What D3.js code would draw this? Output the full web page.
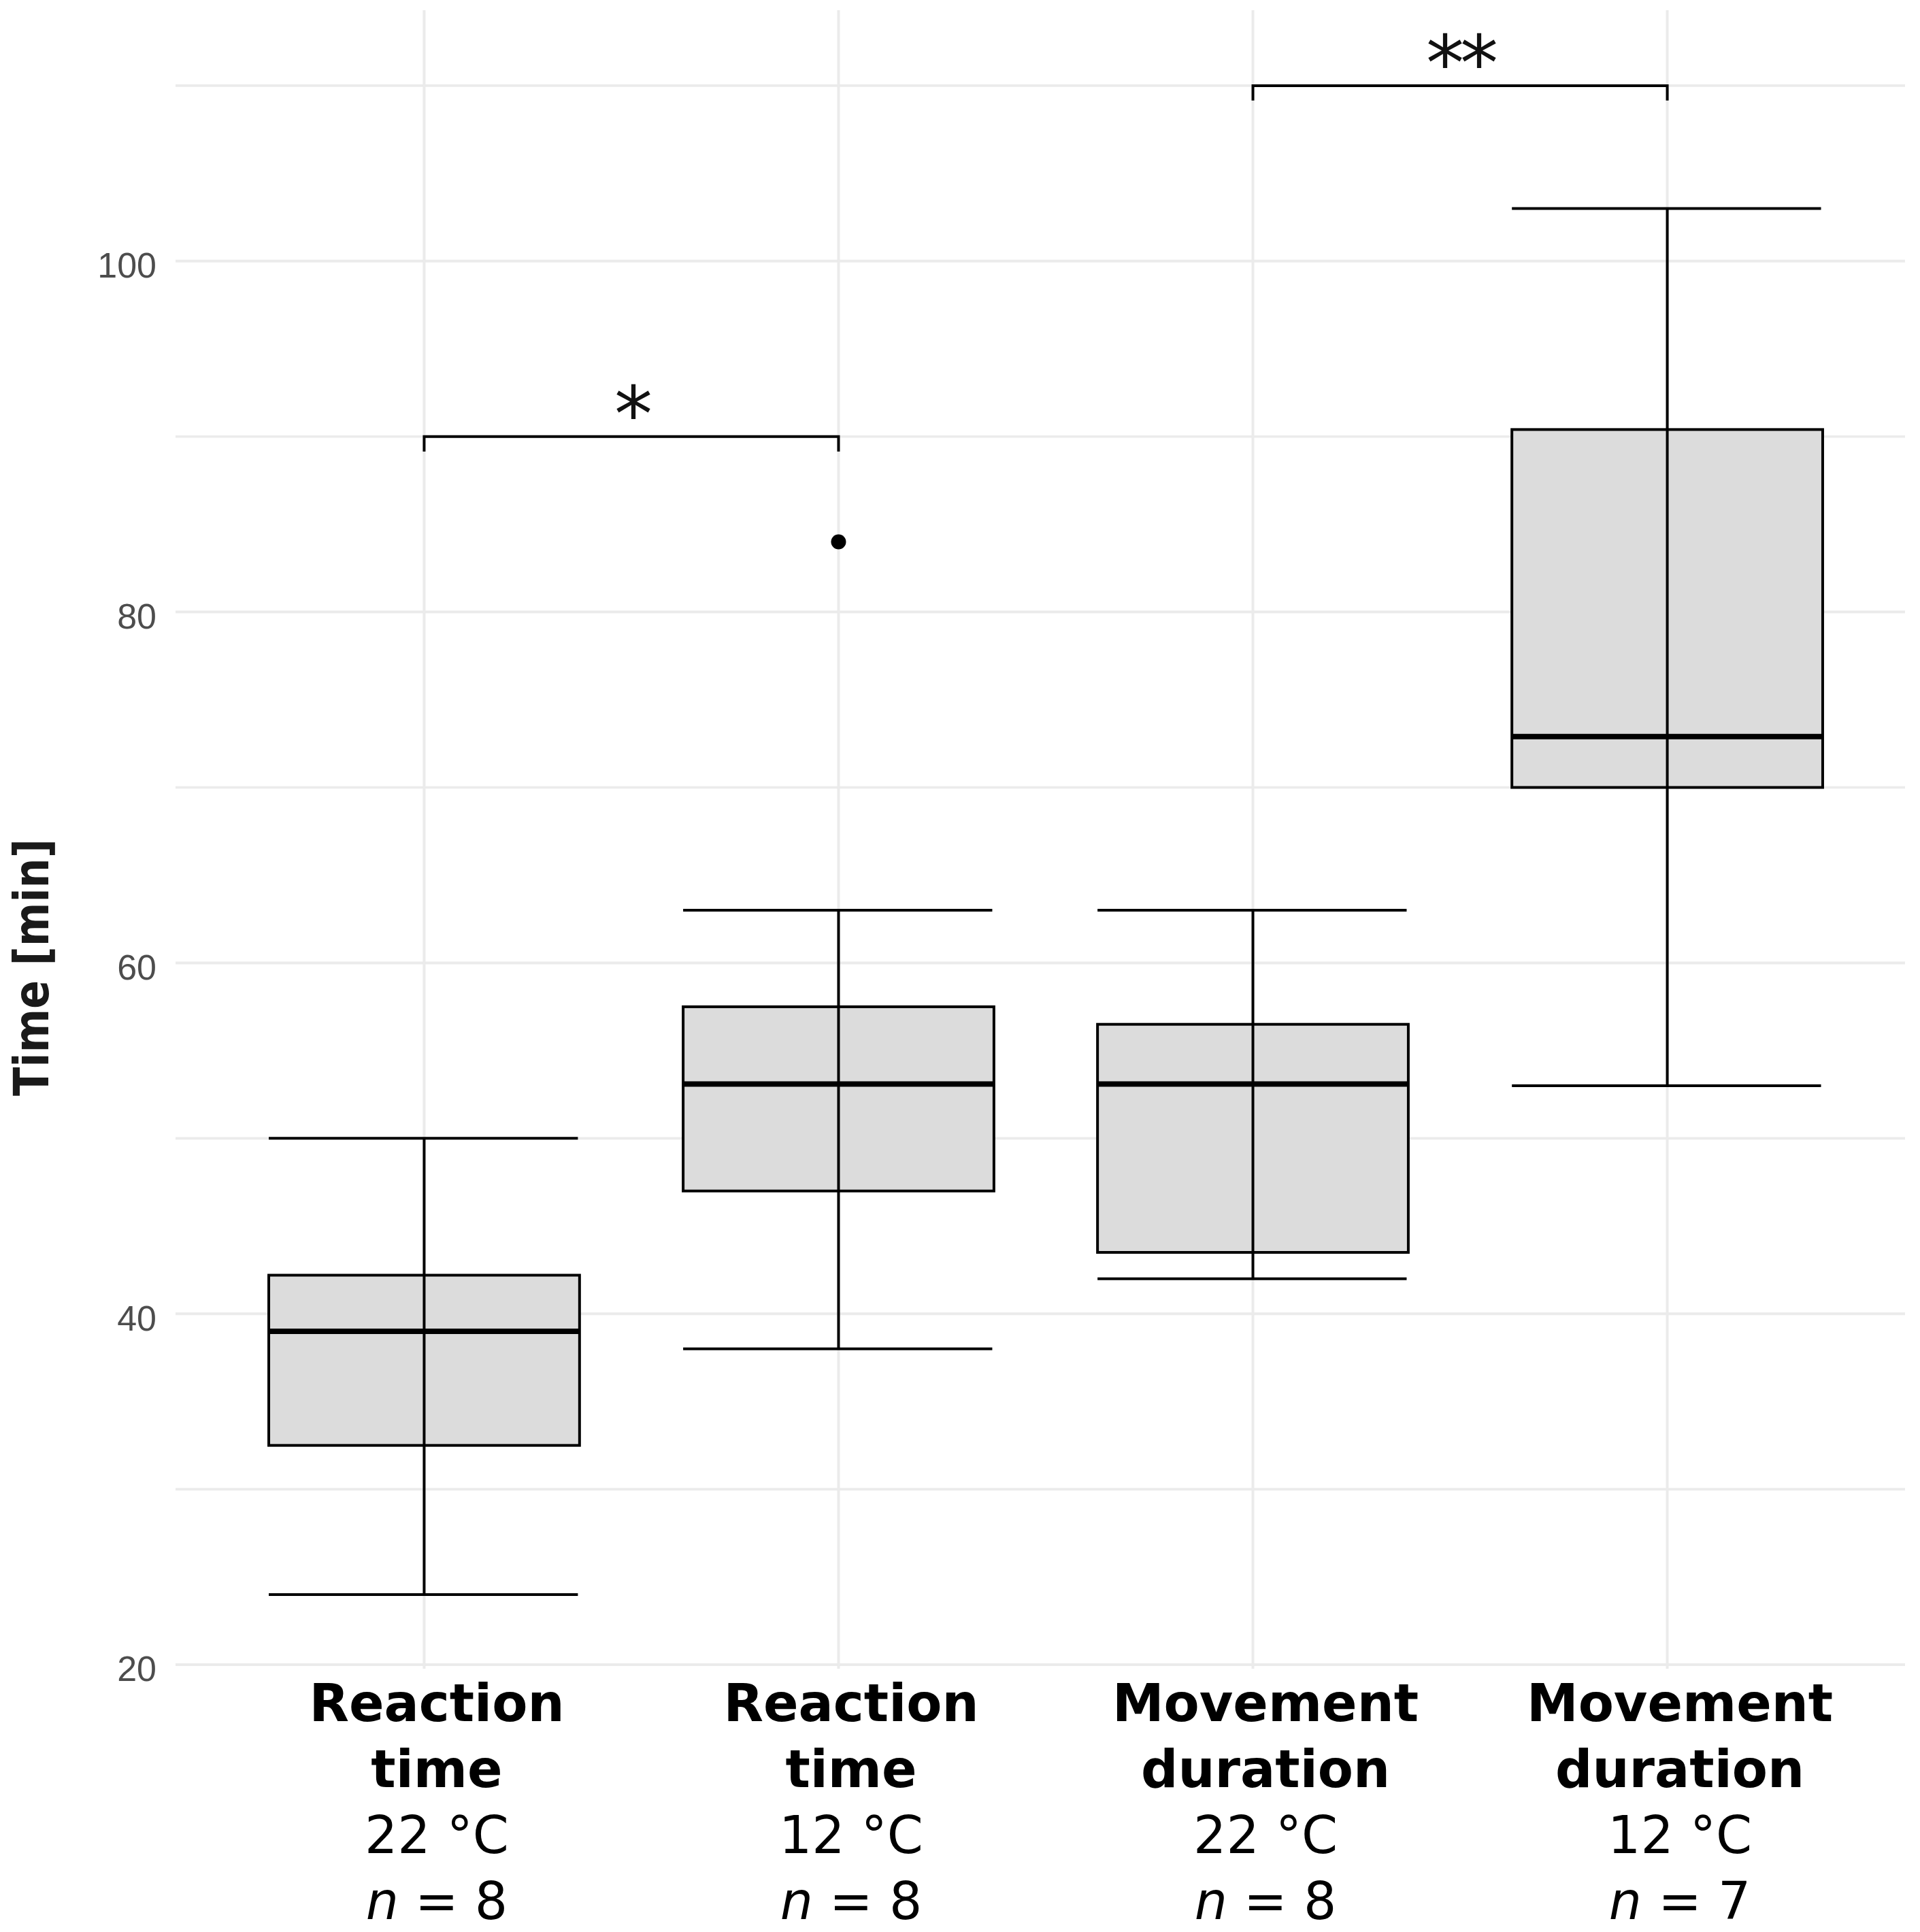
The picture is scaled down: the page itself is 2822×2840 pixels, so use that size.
<!DOCTYPE html>
<html>
<head>
<meta charset="utf-8">
<script src="https://cdn.jsdelivr.net/npm/d3@7"></script>
<style>
    body { margin: 0; background: #fff; }
    svg { display: block; }
</style>
</head>
<body>
<div id="chart"></div>
<script>
// groups: bold title lines, temperature and sample size
const titles = [["Reaction", "time"], ["Reaction", "time"], ["Movement", "duration"], ["Movement", "duration"]];
const temps = ["22 °C", "12 °C", "22 °C", "12 °C"];
const sizes = [8, 8, 8, 7];

// box summaries (min)
const whiskerLow = [24, 38, 42, 53];
const q1 = [32.5, 47.0, 43.5, 70.0];
const medians = [39.0, 53.1, 53.1, 72.9];
const q3 = [42.2, 57.5, 56.5, 90.4];
const whiskerHigh = [50, 63, 63, 103];

// outliers
const outlierGroup = [1];
const outlierValue = [84];

// significance brackets
const bracketFrom = [0, 2];
const bracketTo = [1, 3];
const bracketValue = [90, 110];
const bracketLabel = ["*", "**"];
const tipLength = 0.85;

const majorTicks = [20, 40, 60, 80, 100];
const minorTicks = [30, 50, 70, 90, 110];

const width = 2822, height = 2840;
const margins = {top: 15, left: 258, right: 22, bottom: 387};
const bodyBottom = height - margins.bottom;
const boxHalf = 0.375;

const svg = d3.select("#chart").append("svg")
    .attr("width", width)
    .attr("height", height)
    .attr("viewBox", `0 0 ${width} ${height}`);

svg.append("rect").attr("width", width).attr("height", height).attr("fill", "#fff");

const x = d3.scaleLinear().domain([0.4, 4.6]).range([margins.left, 2816]);
const y = d3.scaleLinear().domain([19.77, 114.3]).range([bodyBottom, margins.top]);
const groups = d3.range(titles.length);

// grid
const grid = svg.append("g").attr("class", "grid")
    .attr("stroke", "#ebebeb");
grid.selectAll(".minor").data(minorTicks).join("line")
    .attr("class", "minor")
    .attr("x1", margins.left).attr("x2", width - margins.right)
    .attr("y1", d => y(d)).attr("y2", d => y(d))
    .attr("stroke-width", 3.6);
grid.selectAll(".major").data(majorTicks).join("line")
    .attr("class", "major")
    .attr("x1", margins.left).attr("x2", width - margins.right)
    .attr("y1", d => y(d)).attr("y2", d => y(d))
    .attr("stroke-width", 4);
grid.selectAll(".vert").data(groups).join("line")
    .attr("class", "vert")
    .attr("x1", d => x(d + 1)).attr("x2", d => x(d + 1))
    .attr("y1", margins.top).attr("y2", bodyBottom)
    .attr("stroke-width", 4);

// y axis
const yAxis = svg.append("g")
    .attr("transform", `translate(${margins.left},0)`)
    .call(d3.axisLeft(y).tickValues(majorTicks).tickSize(0).tickPadding(28));
yAxis.select(".domain").remove();
yAxis.selectAll("text")
    .attr("dy", "0.46em")
    .attr("fill", "#4d4d4d")
    .style("font-family", "'Liberation Sans', Arial, sans-serif")
    .style("font-size", "52px");

svg.append("text")
    .attr("transform", `translate(71,1422) rotate(-90)`)
    .attr("text-anchor", "middle")
    .attr("textLength", 378)
    .attr("lengthAdjust", "spacingAndGlyphs")
    .attr("fill", "#1a1a1a")
    .style("font-family", "'DejaVu Sans', sans-serif")
    .style("font-weight", "bold")
    .style("font-size", "72px")
    .text("Time [min]");

// x axis labels
const xAxis = svg.append("g")
    .attr("transform", `translate(0,${bodyBottom})`)
    .call(d3.axisBottom(x).tickValues(groups.map(d => d + 1)).tickSize(0).tickFormat(""));
xAxis.select(".domain").remove();
xAxis.selectAll(".tick text").each(function (d) {
    const i = d - 1;
    const t = d3.select(this)
        .attr("y", 77).attr("dy", null)
        .attr("fill", "#000")
        .style("font-family", "'DejaVu Sans', sans-serif")
        .style("font-size", "76px");
    titles[i].forEach((line, k) => {
        t.append("tspan").attr("x", 18).attr("dy", k === 0 ? 0 : 97)
            .style("font-weight", "bold").text(line);
    });
    t.append("tspan").attr("x", 18).attr("dy", 97).text(temps[i]);
    t.append("tspan").attr("x", 18).attr("dy", 97).style("font-style", "italic").text("n");
    t.append("tspan").text(" = " + sizes[i]);
});

// boxes
const body = svg.append("g").attr("class", "body");
const box = body.selectAll(".box").data(groups).join("g").attr("class", "box");
box.append("rect")
    .attr("x", d => x(d + 1 - boxHalf))
    .attr("width", d => x(d + 1 + boxHalf) - x(d + 1 - boxHalf))
    .attr("y", d => y(q3[d]))
    .attr("height", d => y(q1[d]) - y(q3[d]))
    .attr("fill", "#dcdcdc")
    .attr("stroke", "#000")
    .attr("stroke-width", 4);
box.append("line")
    .attr("x1", d => x(d + 1 - boxHalf)).attr("x2", d => x(d + 1 + boxHalf))
    .attr("y1", d => y(medians[d])).attr("y2", d => y(medians[d]))
    .attr("stroke", "#000").attr("stroke-width", 8);
// error bar on top of the box
box.append("line")
    .attr("x1", d => x(d + 1)).attr("x2", d => x(d + 1))
    .attr("y1", d => y(whiskerLow[d])).attr("y2", d => y(whiskerHigh[d]))
    .attr("stroke", "#000").attr("stroke-width", 4);
[whiskerLow, whiskerHigh].forEach(arr => {
    box.append("line")
        .attr("x1", d => x(d + 1 - boxHalf)).attr("x2", d => x(d + 1 + boxHalf - 0.004))
        .attr("y1", d => y(arr[d])).attr("y2", d => y(arr[d]))
        .attr("stroke", "#000").attr("stroke-width", 4);
});

body.selectAll(".outlier").data(outlierValue).join("circle")
    .attr("class", "outlier")
    .attr("cx", (d, i) => x(outlierGroup[i] + 1))
    .attr("cy", d => y(d))
    .attr("r", 11)
    .attr("fill", "#000");

// brackets
const sig = body.selectAll(".sig").data(bracketValue).join("g").attr("class", "sig");
sig.append("path")
    .attr("d", (d, i) => {
        const x1 = x(bracketFrom[i] + 1), x2 = x(bracketTo[i] + 1);
        return `M${x1},${y(d - tipLength)}V${y(d)}H${x2}V${y(d - tipLength)}`;
    })
    .attr("fill", "none").attr("stroke", "#000").attr("stroke-width", 4);
sig.append("text")
    .attr("x", (d, i) => (x(bracketFrom[i] + 1) + x(bracketTo[i] + 1)) / 2)
    .attr("y", d => y(d) + 6)
    .attr("text-anchor", "middle")
    .attr("fill", "#111")
    .style("font-family", "'DejaVu Sans', sans-serif")
    .style("font-size", "112px")
    .style("letter-spacing", "-6px")
    .text((d, i) => bracketLabel[i]);
</script>
</body>
</html>
